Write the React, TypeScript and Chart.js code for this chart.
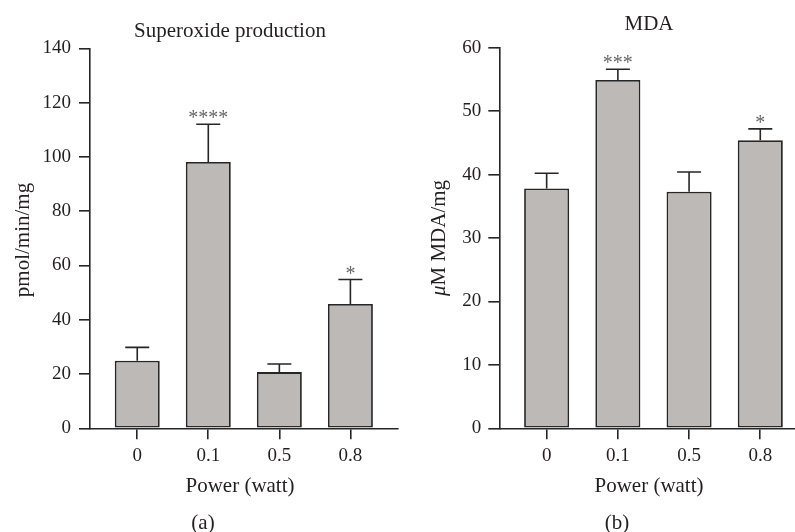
import React, { useEffect, useRef } from 'react';
import { Chart, registerables } from 'chart.js';

Chart.register(...registerables);

// ---- data ----
const categories = ['0', '0.1', '0.5', '0.8'];

const superoxideMean = [24.9, 98.1, 20.7, 45.8];
const superoxideSem = [4.9, 13.9, 3.0, 9.0];
const superoxideStars = ['', '****', '', '*'];
const superoxideYMax = 140;
const superoxideYStep = 20;

const mdaMean = [37.8, 54.9, 37.3, 45.4];
const mdaSem = [2.4, 1.7, 3.1, 1.8];
const mdaStars = ['', '***', '', '*'];
const mdaYMax = 60;
const mdaYStep = 10;

// ---- styles ----
const FONT = "'Liberation Serif', 'Times New Roman', serif";
const INK = '#231f20';
const LINE = '#262626';
const STAR = '#666666';
const BAR_FILL = '#bdb9b6';

type PanelProps = {
  canvasLeft: number;
  canvasWidth: number;
  axisLeft: number;
  axisTop: number;
  axisBottom: number;
  padRight: number;
  tickPad: number;
  means: number[];
  sems: number[];
  stars: string[];
  yMax: number;
  yStep: number;
  title: string;
  titleX: number;
  titleY: number;
  yTitleParts: { text: string; italic?: boolean }[];
  yTitleX: number;
  yTitleY: number;
  xTitle: string;
  xTitleX: number;
  panelLabel: string;
  panelLabelX: number;
};

function Panel(p: PanelProps) {
  const ref = useRef<HTMLCanvasElement | null>(null);

  useEffect(() => {
    if (!ref.current) return;
    const off = p.canvasLeft;
    const H = 532;

    const overlay = {
      id: 'overlay',
      afterDatasetsDraw(chart: any) {
        const { ctx } = chart;
        const xs = chart.scales.x;
        const ys = chart.scales.y;
        ctx.save();
        ctx.strokeStyle = LINE;
        ctx.lineWidth = 1.6;
        p.means.forEach((m, i) => {
          const px = xs.getPixelForValue(i);
          const yb = ys.getPixelForValue(m);
          const yt = ys.getPixelForValue(m + p.sems[i]);
          ctx.beginPath();
          ctx.moveTo(px, yb);
          ctx.lineTo(px, yt);
          ctx.moveTo(px - 12, yt);
          ctx.lineTo(px + 12, yt);
          ctx.stroke();
          if (p.stars[i]) {
            ctx.font = `20px ${FONT}`;
            ctx.fillStyle = STAR;
            ctx.textAlign = 'center';
            ctx.textBaseline = 'alphabetic';
            const mt = ctx.measureText(p.stars[i]);
            const target = yt - 10;
            const y = target - (mt.actualBoundingBoxDescent - mt.actualBoundingBoxAscent) / 2;
            ctx.fillText(p.stars[i], px, y);
          }
        });
        ctx.restore();
      },
      afterDraw(chart: any) {
        const { ctx } = chart;
        ctx.save();
        ctx.fillStyle = INK;
        ctx.textBaseline = 'alphabetic';
        ctx.textAlign = 'center';
        ctx.font = `21px ${FONT}`;
        ctx.fillText(p.title, p.titleX - off, p.titleY);
        ctx.fillText(p.xTitle, p.xTitleX - off, 491.5);
        ctx.fillText(p.panelLabel, p.panelLabelX - off, 529);

        ctx.translate(p.yTitleX - off, p.yTitleY);
        ctx.rotate(-Math.PI / 2);
        ctx.textAlign = 'left';
        const fonts = p.yTitleParts.map((pt) => (pt.italic ? `italic 21px ${FONT}` : `21px ${FONT}`));
        let total = 0;
        const widths = p.yTitleParts.map((pt, i) => {
          ctx.font = fonts[i];
          const w = ctx.measureText(pt.text).width;
          total += w;
          return w;
        });
        let cx = -total / 2;
        p.yTitleParts.forEach((pt, i) => {
          ctx.font = fonts[i];
          ctx.fillText(pt.text, cx, 0);
          cx += widths[i];
        });
        ctx.restore();
      },
    };

    const chart = new Chart(ref.current, {
      type: 'bar',
      data: {
        datasets: [
          {
            data: p.means.map((v, i) => ({ x: i, y: v })) as any,
            backgroundColor: BAR_FILL,
            borderColor: LINE,
            borderWidth: 1.8,
            borderSkipped: false,
            barPercentage: 0.633,
            categoryPercentage: 1,
          },
        ],
      },
      options: {
        animation: false,
        responsive: false,
        devicePixelRatio: 1,
        layout: { padding: { top: p.axisTop, right: p.padRight, left: 0, bottom: 0 } },
        plugins: {
          legend: { display: false },
          tooltip: { enabled: false },
          title: { display: false },
        },
        scales: {
          x: {
            type: 'linear',
            offset: false,
            min: -0.665,
            max: 3.67,
            afterBuildTicks: (s: any) => {
              s.ticks = categories.map((_, i) => ({ value: i }));
            },
            afterFit: (s: any) => {
              s.height = H - p.axisBottom;
            },
            ticks: {
              callback: (v: any) => categories[v] ?? '',
              font: { family: FONT, size: 19 },
              color: INK,
              padding: 5,
              maxRotation: 0,
              autoSkip: false,
            },
            grid: {
              offset: false,
              drawOnChartArea: false,
              drawTicks: true,
              tickLength: 11,
              color: LINE,
              lineWidth: 1.6,
            },
            border: { display: true, color: LINE, width: 1.6 },
          },
          y: {
            min: 0,
            max: p.yMax,
            afterFit: (s: any) => {
              s.width = p.axisLeft - off;
            },
            ticks: {
              stepSize: p.yStep,
              font: { family: FONT, size: 19 },
              color: INK,
              padding: p.tickPad,
            },
            grid: { drawOnChartArea: false, drawTicks: true, tickLength: 11, color: LINE, lineWidth: 1.6 },
            border: { display: true, color: LINE, width: 1.6 },
          },
        },
      } as any,
      plugins: [overlay],
    });
    return () => chart.destroy();
  }, []);

  return (
    <canvas
      ref={ref}
      width={p.canvasWidth}
      height={532}
      style={{ position: 'absolute', left: p.canvasLeft, top: 0, width: p.canvasWidth, height: 532 }}
    />
  );
}

export default function App() {
  return (
    <div
      style={{
        position: 'absolute',
        left: 0,
        top: 0,
        width: 795,
        height: 532,
        overflow: 'hidden',
        background: '#ffffff',
      }}
    >
      <Panel
        canvasLeft={0}
        canvasWidth={400}
        axisLeft={90}
        axisTop={48.3}
        axisBottom={428.3}
        padRight={2}
        tickPad={8}
        means={superoxideMean}
        sems={superoxideSem}
        stars={superoxideStars}
        yMax={superoxideYMax}
        yStep={superoxideYStep}
        title="Superoxide production"
        titleX={230}
        titleY={36.5}
        yTitleParts={[{ text: 'pmol/min/mg' }]}
        yTitleX={29}
        yTitleY={240}
        xTitle="Power (watt)"
        xTitleX={240}
        panelLabel="(a)"
        panelLabelX={203}
      />
      <Panel
        canvasLeft={400}
        canvasWidth={410}
        axisLeft={499.3}
        axisTop={47.7}
        axisBottom={428.3}
        padRight={2}
        tickPad={7}
        means={mdaMean}
        sems={mdaSem}
        stars={mdaStars}
        yMax={mdaYMax}
        yStep={mdaYStep}
        title="MDA"
        titleX={649}
        titleY={30}
        yTitleParts={[{ text: 'μ', italic: true }, { text: 'M MDA/mg' }]}
        yTitleX={445}
        yTitleY={238}
        xTitle="Power (watt)"
        xTitleX={649}
        panelLabel="(b)"
        panelLabelX={617}
      />
    </div>
  );
}
